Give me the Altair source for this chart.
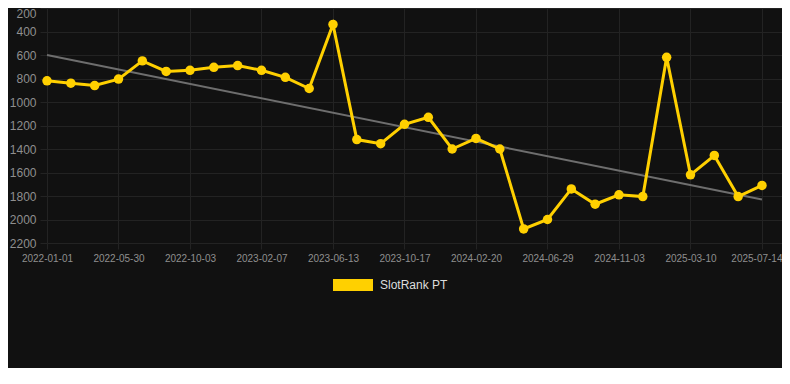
import json
import altair as alt
import pandas as pd

# ---- data ----
dates = [
    "2022-01-01", "2022-02-18", "2022-04-08", "2022-05-30", "2022-07-11",
    "2022-08-22", "2022-10-03", "2022-11-14", "2022-12-27", "2023-02-07",
    "2023-03-21", "2023-05-02", "2023-06-13", "2023-07-25", "2023-09-05",
    "2023-10-17", "2023-11-28", "2024-01-09", "2024-02-20", "2024-04-02",
    "2024-05-16", "2024-06-29", "2024-08-10", "2024-09-22", "2024-11-03",
    "2024-12-15", "2025-01-27", "2025-03-10", "2025-04-21", "2025-06-02",
    "2025-07-14",
]
ranks = [
    820, 840, 860, 805, 650, 740, 730, 705, 690, 730,
    790, 885, 340, 1320, 1355, 1190, 1130, 1400, 1310, 1400,
    2080, 2000, 1740, 1870, 1790, 1805, 620, 1620, 1455, 1805,
    1710,
]
series_name = "SlotRank PT"
trend_idx = [0, 30]
trend_vals = [600, 1830]
x_tick_idx = list(range(0, 31, 3))
y_ticks = list(range(200, 2201, 200))

# ---- styling ----
BG = "#111111"
GRID = "#232323"
LABEL = "#8f8f8f"
YELLOW = "#FFD000"
TREND = "#6e6e6e"
FONT = "Liberation Sans"

df = pd.DataFrame({
    "idx": list(range(len(dates))),
    "date": dates,
    "rank": ranks,
    "series": [series_name] * len(dates),
})
trend_df = pd.DataFrame({"idx": trend_idx, "rank": trend_vals})

label_expr = json.dumps(dates) + "[datum.value]"

x_enc = alt.X(
    "idx:Q",
    scale=alt.Scale(domain=[0, 30.84], nice=False, zero=False),
    axis=alt.Axis(
        values=x_tick_idx,
        labelExpr=label_expr,
        title=None,
        grid=True,
        gridColor=GRID,
        gridWidth=1,
        domain=False,
        ticks=True,
        tickSize=6,
        tickColor=GRID,
        labelFont=FONT,
        labelFontSize=10,
        labelColor=LABEL,
        labelPadding=4,
        labelAngle=0,
        labelFlush=False,
        labelOverlap=False,
        labelAlign={"expr": "datum.value == 30 ? 'right' : 'center'"},
        labelOffset={"expr": "datum.value == 30 ? 20 : 0"},
    ),
)
y_enc = alt.Y(
    "rank:Q",
    scale=alt.Scale(domain=[200, 2200], reverse=True, nice=False, zero=False),
    axis=alt.Axis(
        values=y_ticks,
        format="d",
        title=None,
        grid=True,
        gridColor=GRID,
        gridWidth=1,
        domain=False,
        ticks=True,
        tickSize=7,
        tickColor=GRID,
        labelFont=FONT,
        labelFontSize=12,
        labelColor=LABEL,
        labelPadding=4,
        labelBaseline={"expr": "datum.value == 200 ? 'top' : 'middle'"},
    ),
)

trend = alt.Chart(trend_df).mark_line(color=TREND, strokeWidth=2).encode(
    x=x_enc, y=y_enc
)

line = alt.Chart(df).mark_line(color=YELLOW, strokeWidth=3).encode(
    x=x_enc, y=y_enc
)

points = alt.Chart(df).mark_circle(size=90, opacity=1).encode(
    x=x_enc,
    y=y_enc,
    color=alt.Color(
        "series:N",
        scale=alt.Scale(domain=[series_name], range=[YELLOW]),
        legend=alt.Legend(
            title=None,
            orient="none",
            legendX=286,
            legendY=257,
            direction="horizontal",
            padding=0,
            symbolType="M-1,-0.3H1V0.3H-1Z",
            symbolSize=1600,
            symbolStrokeWidth=0,
            symbolOpacity=1,
            labelFont=FONT,
            labelFontSize=12,
            labelColor="#dddddd",
            labelOffset=7,
        ),
    ),
)

chart = (
    alt.layer(trend, line, points)
    .properties(
        width=735,
        height=235,
        autosize=alt.AutoSizeParams(type="none"),
        padding={"left": 39, "top": 0, "right": 0, "bottom": 125},
        background=BG,
    )
    .configure_view(stroke=None)
)

chart.save("out.html", embed_options={"renderer": "svg", "actions": False})
